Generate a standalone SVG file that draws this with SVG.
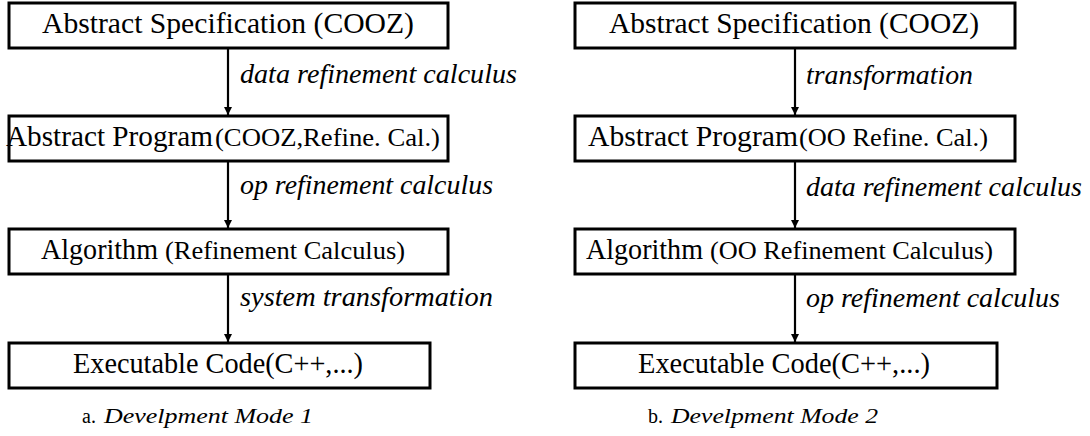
<svg xmlns="http://www.w3.org/2000/svg" width="1090" height="436" viewBox="0 0 1090 436">
  <defs>
    <style>
      .box { fill: #fff; stroke: #000; stroke-width: 3; }
      .t { font-family: "Liberation Serif", "DejaVu Serif", serif; font-size: 29px; fill: #000; }
      .ts { font-family: "Liberation Serif", "DejaVu Serif", serif; font-size: 25px; fill: #000; }
      .lbl { font-family: "Liberation Serif", "DejaVu Serif", serif; font-style: italic; font-size: 27px; fill: #000; }
      .cap { font-family: "Liberation Serif", "DejaVu Serif", serif; font-size: 20px; fill: #000; }
      .capi { font-family: "Liberation Serif", "DejaVu Serif", serif; font-style: italic; font-size: 20px; fill: #000; }
      .edge { stroke: #000; stroke-width: 2.2; fill: none; marker-end: url(#head); }
    </style>
    <marker id="head" viewBox="0 0 8 14" refX="8" refY="7" markerWidth="8" markerHeight="14" markerUnits="userSpaceOnUse" orient="auto">
      <path d="M0,3 L8,7 L0,11 Z" fill="#000"/>
    </marker>
  </defs>
  <rect width="1090" height="436" fill="#fff"/>

  <!-- connectors and their labels -->
  <g id="connectors">
    <line class="edge" x1="228" y1="49" x2="228" y2="115"/>
    <line class="edge" x1="228" y1="162" x2="228" y2="228"/>
    <line class="edge" x1="228" y1="275" x2="228" y2="342"/>
    <line class="edge" x1="795" y1="49" x2="795" y2="115"/>
    <line class="edge" x1="795" y1="162" x2="795" y2="228"/>
    <line class="edge" x1="795" y1="275" x2="795" y2="342"/>
    <text class="lbl" x="240" y="83" textLength="277" lengthAdjust="spacingAndGlyphs">data refinement calculus</text>
    <text class="lbl" x="240" y="194" textLength="253" lengthAdjust="spacingAndGlyphs">op refinement calculus</text>
    <text class="lbl" x="240" y="306" textLength="253" lengthAdjust="spacingAndGlyphs">system transformation</text>
    <text class="lbl" x="806" y="84" textLength="167" lengthAdjust="spacingAndGlyphs">transformation</text>
    <text class="lbl" x="806" y="196" textLength="276" lengthAdjust="spacingAndGlyphs">data refinement calculus</text>
    <text class="lbl" x="806" y="307" textLength="254" lengthAdjust="spacingAndGlyphs">op refinement calculus</text>
  </g>

  <!-- mode 1 -->
  <g id="a-spec">
    <rect class="box" x="9" y="3" width="439" height="45"/>
    <text class="t" x="42" y="33" textLength="372" lengthAdjust="spacingAndGlyphs">Abstract Specification (COOZ)</text>
  </g>
  <g id="a-program">
    <rect class="box" x="9" y="116" width="439" height="45"/>
    <text class="t" x="6" y="146" textLength="207" lengthAdjust="spacingAndGlyphs">Abstract Program</text>
    <text class="ts" x="215" y="146" textLength="225" lengthAdjust="spacingAndGlyphs">(COOZ,Refine. Cal.)</text>
  </g>
  <g id="a-algorithm">
    <rect class="box" x="9" y="229" width="439" height="45"/>
    <text class="t" x="41" y="259" textLength="117" lengthAdjust="spacingAndGlyphs">Algorithm</text>
    <text class="ts" x="165" y="259" textLength="240" lengthAdjust="spacingAndGlyphs">(Refinement Calculus)</text>
  </g>
  <g id="a-code">
    <rect class="box" x="9" y="343" width="421" height="45"/>
    <text class="t" x="73" y="373" textLength="290" lengthAdjust="spacingAndGlyphs">Executable Code(C++,...)</text>
  </g>
  <g id="a-caption">
    <text class="cap" x="82" y="423">a.</text>
    <text class="capi" x="104" y="423" textLength="209" lengthAdjust="spacingAndGlyphs">Develpment Mode 1</text>
  </g>

  <!-- mode 2 -->
  <g id="b-spec">
    <rect class="box" x="575" y="3" width="440" height="45"/>
    <text class="t" x="609" y="33" textLength="370" lengthAdjust="spacingAndGlyphs">Abstract Specification (COOZ)</text>
  </g>
  <g id="b-program">
    <rect class="box" x="575" y="116" width="440" height="45"/>
    <text class="t" x="588" y="146" textLength="210" lengthAdjust="spacingAndGlyphs">Abstract Program</text>
    <text class="ts" x="799" y="146" textLength="189" lengthAdjust="spacingAndGlyphs">(OO Refine. Cal.)</text>
  </g>
  <g id="b-algorithm">
    <rect class="box" x="575" y="229" width="440" height="45"/>
    <text class="t" x="586" y="259" textLength="117" lengthAdjust="spacingAndGlyphs">Algorithm</text>
    <text class="ts" x="710" y="259" textLength="283" lengthAdjust="spacingAndGlyphs">(OO Refinement Calculus)</text>
  </g>
  <g id="b-code">
    <rect class="box" x="575" y="343" width="422" height="45"/>
    <text class="t" x="638" y="373" textLength="292" lengthAdjust="spacingAndGlyphs">Executable Code(C++,...)</text>
  </g>
  <g id="b-caption">
    <text class="cap" x="648" y="423">b.</text>
    <text class="capi" x="671" y="423" textLength="207" lengthAdjust="spacingAndGlyphs">Develpment Mode 2</text>
  </g>
</svg>
